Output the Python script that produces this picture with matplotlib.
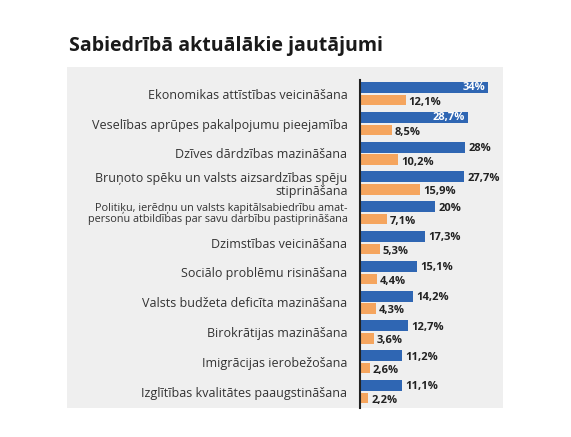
import matplotlib
matplotlib.use("Agg")
import matplotlib.pyplot as plt
from matplotlib.patches import Rectangle

plt.rcParams['font.family'] = ['Open Sans', 'DejaVu Sans']

categories = [
    "Ekonomikas attīstības veicināšana",
    "Veselības aprūpes pakalpojumu pieejamība",
    "Dzīves dārdzības mazināšana",
    "Bruņoto spēku un valsts aizsardzības spēju\nstiprināšana",
    "Politiķu, ierēdņu un valsts kapitālsabiedrību amat-\npersonu atbildības par savu darbību pastiprināšana",
    "Dzimstības veicināšana",
    "Sociālo problēmu risināšana",
    "Valsts budžeta deficīta mazināšana",
    "Birokrātijas mazināšana",
    "Imigrācijas ierobežošana",
    "Izglītības kvalitātes paaugstināšana",
]
blue_vals = [34, 28.7, 28, 27.7, 20, 17.3, 15.1, 14.2, 12.7, 11.2, 11.1]
orange_vals = [12.1, 8.5, 10.2, 15.9, 7.1, 5.3, 4.4, 4.3, 3.6, 2.6, 2.2]
blue_inside = [True, True] + [False] * 9

BLUE = '#2f66b3'
ORANGE = '#f5a55e'
W, H = 571, 437

fig = plt.figure(figsize=(W / 100, H / 100), dpi=100)
fig.patch.set_facecolor('white')

# grey panel behind the axes
fig.patches.append(Rectangle((67 / W, 1 - 408 / H), (503 - 67) / W, (408 - 67) / H,
                             transform=fig.transFigure, facecolor='#efefef',
                             edgecolor='none', zorder=-1))

fig.text(69 / W, 1 - 46 / H, "Sabiedrībā aktuālākie jautājumi", fontsize=14,
         fontweight='bold', color='#1a1a1a', va='center', ha='left')

ax = fig.add_axes([360 / W, 1 - 408 / H, (503 - 360) / W, (408 - 67) / H])
ax.set_facecolor('none')
ax.set_zorder(1)

y = list(range(len(categories)))
off = 0.21
ax.barh([i - off for i in y], blue_vals, height=0.37, color=BLUE, zorder=2)
ax.barh([i + off for i in y], orange_vals, height=0.35, color=ORANGE, zorder=2)

def fmt(v):
    s = f"{v:g}".replace('.', ',')
    return s + '%'

for i, (b, o) in enumerate(zip(blue_vals, orange_vals)):
    if blue_inside[i]:
        ax.text(b - 0.8, i - off, fmt(b), color='white', fontsize=8, fontweight='bold',
                ha='right', va='center')
    else:
        ax.text(b + 0.8, i - off + 0.05, fmt(b), color='#222222', fontsize=8,
                fontweight='bold', ha='left', va='center')
    ax.text(o + 0.8, i + off + 0.08, fmt(o), color='#222222', fontsize=8,
            fontweight='bold', ha='left', va='center')

ax.set_xlim(0, 38)
ax.set_ylim(10.55, -0.9)
ax.set_xticks([])
ax.set_yticks(y)
ax.set_yticklabels(categories, fontsize=9, color='#333333', linespacing=1.05)
for lbl in ax.get_yticklabels():
    if lbl.get_text().startswith("Politiķu"):
        lbl.set_fontsize(7.8)
        lbl.set_linespacing(1.0)
ax.tick_params(axis='y', length=0, pad=9)
for s in ['top', 'right', 'bottom']:
    ax.spines[s].set_visible(False)
ax.spines['left'].set_color('#222222')
ax.spines['left'].set_linewidth(1.5)
ax.spines['left'].set_bounds(-0.46, 10.55)

fig.savefig('out.png', dpi=100)
